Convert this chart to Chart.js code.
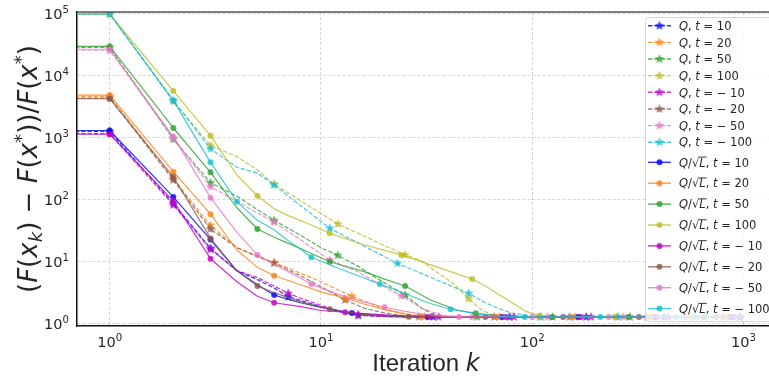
<!DOCTYPE html>
<html>
<head>
<meta charset="utf-8">
<script src="https://cdn.jsdelivr.net/npm/chart.js@4.4.1/dist/chart.umd.min.js"></script>
<style>
  html, body { margin: 0; padding: 0; background: #fff; }
</style>
</head>
<body>
<canvas id="chart" width="769" height="377"></canvas>
<script>
// iterations k, values and marker positions for each run
const kQ10 = [0.1, 1, 2, 3, 4, 5, 6, 7, 8, 10, 12, 15, 20, 25, 34, 78, 180, 420, 960, 1000];
const vQ10 = [1280, 1280, 88, 16.6, 7.2, 5.2, 3.8, 2.76, 2.4, 1.9, 1.6, 1.38, 1.32, 1.3, 1.3, 1.3, 1.3, 1.3, 1.3, 1.3];
const mQ10 = [1, 2, 3, 7, 15, 34, 78, 180, 420, 960];

const kQ20 = [0.1, 1, 2, 3, 4, 5, 6, 7, 8, 10, 14, 20, 25, 31, 70, 160, 370, 850, 1000];
const vQ20 = [4700, 4700, 220, 39, 17, 12.5, 9.8, 8.0, 6.6, 4.8, 2.8, 1.75, 1.45, 1.32, 1.3, 1.3, 1.3, 1.3, 1.3];
const mQ20 = [1, 2, 3, 6, 14, 31, 70, 160, 370, 850];

const kQ50 = [0.1, 1, 2, 3, 4, 5, 6, 8, 10, 12, 15, 19, 25, 30, 35, 55, 125, 290, 660, 1000];
const vQ50 = [29000, 29000, 950, 190, 115, 70, 47, 27, 17, 12.8, 8.5, 5.1, 2.94, 1.8, 1.35, 1.3, 1.3, 1.3, 1.3, 1.3];
const mQ50 = [1, 2, 3, 6, 12, 25, 55, 125, 290, 660];

const kQ100 = [0.1, 1, 2, 3, 4, 5, 6, 12, 18, 25, 30, 35, 42, 50, 58, 68, 80, 108, 250, 580, 1000];
const vQ100 = [1e5, 1e5, 3900, 760, 500, 305, 180, 41, 21.7, 13, 10.5, 7.0, 4.6, 2.56, 1.65, 1.32, 1.3, 1.3, 1.3, 1.3, 1.3];
const mQ100 = [1, 2, 3, 6, 12, 25, 50, 108, 250, 580];

const kQm10 = [0.1, 1, 2, 3, 4, 5, 6, 7, 8, 10, 12, 15, 20, 25, 36, 82, 190, 440, 960, 1000];
const vQm10 = [1180, 1180, 83, 16, 7.3, 5.6, 4.1, 3.13, 2.6, 2.0, 1.65, 1.4, 1.32, 1.3, 1.3, 1.3, 1.3, 1.3, 1.3, 1.3];
const mQm10 = [1, 2, 3, 7, 15, 36, 82, 190, 440, 960];

const kQm20 = [0.1, 1, 2, 3, 4, 5, 6, 8, 10, 13, 16, 20, 25, 29, 66, 150, 350, 800, 1000];
const vQm20 = [4400, 4400, 210, 34, 17, 12.2, 9.6, 6.0, 4.0, 2.45, 1.8, 1.5, 1.35, 1.31, 1.3, 1.3, 1.3, 1.3, 1.3];
const mQm20 = [1, 2, 3, 6, 13, 29, 66, 150, 350, 800];

const kQm50 = [0.1, 1, 2, 3, 4, 5, 6, 8, 11, 15, 20, 24, 30, 38, 52, 118, 270, 620, 1000];
const vQm50 = [26000, 26000, 1000, 164, 95, 62, 44, 22.8, 10.8, 6.9, 3.95, 2.86, 1.8, 1.35, 1.3, 1.3, 1.3, 1.3, 1.3];
const mQm50 = [1, 2, 3, 6, 11, 24, 52, 118, 270, 620];

const kQm100 = [0.1, 1, 2, 3, 4, 5, 6, 8, 11, 16, 23, 30, 40, 50, 60, 70, 80, 100, 110, 255, 590, 1000];
const vQm100 = [1e5, 1e5, 4060, 670, 337, 270, 175, 81, 35, 18, 9.5, 6.5, 4.3, 3.13, 2.2, 1.75, 1.5, 1.34, 1.3, 1.3, 1.3, 1.3];
const mQm100 = [1, 2, 3, 6, 11, 23, 50, 110, 255, 590];

const kS10 = [0.1, 1, 2, 3, 4, 5, 6, 7, 8, 10, 14, 20, 25, 32, 72, 165, 380, 870, 1000];
const vS10 = [1320, 1320, 112, 23, 7.2, 4.3, 2.94, 2.5, 2.2, 1.85, 1.5, 1.36, 1.31, 1.3, 1.3, 1.3, 1.3, 1.3, 1.3];
const mS10 = [1, 2, 3, 6, 14, 32, 72, 165, 380, 870];

const kS20 = [0.1, 1, 2, 3, 4, 5, 6, 8, 10, 13, 16, 20, 25, 30, 68, 155, 360, 820, 1000];
const vS20 = [4900, 4900, 286, 59, 15.6, 8.2, 6.0, 4.3, 3.3, 2.6, 2.1, 1.7, 1.45, 1.32, 1.3, 1.3, 1.3, 1.3, 1.3];
const mS20 = [1, 2, 3, 6, 13, 30, 68, 155, 360, 820];

const kS50 = [0.1, 1, 2, 3, 4, 5, 6, 7, 8, 11, 16, 20, 25, 33, 44, 54, 68, 80, 124, 285, 650, 1000];
const vS50 = [30000, 30000, 1450, 280, 75, 34, 25, 20, 16.5, 10.1, 7.0, 5.3, 4.1, 2.44, 1.68, 1.49, 1.35, 1.3, 1.3, 1.3, 1.3, 1.3];
const mS50 = [1, 2, 3, 5, 11, 25, 54, 124, 285, 650];

const kS100 = [0.1, 1, 2, 3, 4, 5, 6, 7, 9, 11, 16, 24, 35, 52, 60, 68, 81, 94, 108, 125, 245, 560, 1000];
const vS100 = [1e5, 1e5, 5730, 1090, 253, 117, 72, 56, 39.5, 29, 19, 13, 8.4, 5.3, 4.1, 3.13, 2.16, 1.58, 1.35, 1.3, 1.3, 1.3, 1.3];
const mS100 = [1, 2, 3, 5, 11, 24, 52, 108, 245, 560];

const kSm10 = [0.1, 1, 2, 3, 4, 5, 6, 8, 10, 13, 16, 20, 25, 33, 75, 170, 390, 900, 1000];
const vSm10 = [1150, 1150, 97, 11.3, 4.8, 2.8, 2.2, 1.9, 1.65, 1.55, 1.47, 1.4, 1.35, 1.31, 1.3, 1.3, 1.3, 1.3, 1.3];
const mSm10 = [1, 2, 3, 6, 13, 33, 75, 170, 390, 900];

const kSm20 = [0.1, 1, 2, 3, 4, 5, 6, 8, 11, 15, 20, 26, 60, 140, 320, 740, 1000];
const vSm20 = [4300, 4300, 237, 24, 7.2, 4.1, 3.2, 2.3, 1.73, 1.45, 1.35, 1.31, 1.3, 1.3, 1.3, 1.3, 1.3];
const mSm20 = [1, 2, 3, 5, 11, 26, 60, 140, 320, 740];

const kSm50 = [0.1, 1, 2, 3, 4, 5, 6, 7, 9, 12, 15, 20, 25, 30, 38, 45, 100, 230, 530, 1000];
const vSm50 = [27000, 27000, 1050, 109, 30, 13, 9.2, 7.0, 4.4, 3.0, 2.4, 1.86, 1.6, 1.45, 1.33, 1.3, 1.3, 1.3, 1.3, 1.3];
const mSm50 = [1, 2, 3, 5, 9, 20, 45, 100, 230, 530];

const kSm100 = [0.1, 1, 2, 3, 4, 5, 6, 7, 8, 9, 12, 15, 19, 25, 32, 41, 52, 68, 92, 210, 480, 1000];
const vSm100 = [1e5, 1e5, 4000, 405, 94, 47, 33, 22, 16, 11.9, 8.0, 6.0, 4.4, 3.1, 2.2, 1.73, 1.5, 1.35, 1.3, 1.3, 1.3, 1.3];
const mSm100 = [1, 2, 3, 4, 9, 19, 41, 92, 210, 480];

const tLabels = ['10', '20', '50', '100', '\u2212 10', '\u2212 20', '\u2212 50', '\u2212 100'];
const xTicks = [1, 10, 100, 1000];
const yTicks = [1, 10, 100, 1000, 10000, 100000];

// colours (matplotlib-ish, alpha .8)
const palette = [
  'rgba(0,0,255,0.8)', 'rgba(255,127,14,0.8)', 'rgba(44,160,44,0.8)', 'rgba(188,189,34,0.8)',
  'rgba(191,0,191,0.8)', 'rgba(140,86,75,0.8)', 'rgba(227,119,194,0.8)', 'rgba(23,190,207,0.8)'
];

const runs = [
  [kQ10, vQ10, mQ10], [kQ20, vQ20, mQ20], [kQ50, vQ50, mQ50], [kQ100, vQ100, mQ100],
  [kQm10, vQm10, mQm10], [kQm20, vQm20, mQm20], [kQm50, vQm50, mQm50], [kQm100, vQm100, mQm100],
  [kS10, vS10, mS10], [kS20, vS20, mS20], [kS50, vS50, mS50], [kS100, vS100, mS100],
  [kSm10, vSm10, mSm10], [kSm20, vSm20, mSm20], [kSm50, vSm50, mSm50], [kSm100, vSm100, mSm100]
];

// filled star marker like matplotlib '*'
function starImg(color, R) {
  const c = document.createElement('canvas');
  const s = Math.ceil(R * 2 + 2);
  c.width = c.height = s;
  const g = c.getContext('2d');
  g.translate(s / 2, s / 2);
  g.beginPath();
  for (let i = 0; i < 10; i++) {
    const r = i % 2 ? R * 0.45 : R;
    const a = -Math.PI / 2 + i * Math.PI / 5;
    g.lineTo(r * Math.cos(a), r * Math.sin(a));
  }
  g.closePath();
  g.fillStyle = color;
  g.fill();
  return c;
}

const datasets = runs.map(([ks, vs, ms], i) => {
  const isQ = i < 8;
  const color = palette[i % 8];
  return {
    label: (isQ ? 'Q' : 'Q/\u221aL') + ', t = ' + tLabels[i % 8],
    data: ks.map((k, j) => ({ x: k, y: vs[j] })),
    borderColor: color,
    backgroundColor: color,
    borderWidth: 1.2,
    borderDash: isQ ? [4.4, 1.9] : [],
    borderJoinStyle: 'round',
    tension: 0,
    pointStyle: isQ ? starImg(color, 5) : 'circle',
    pointRadius: ctx => (ctx.raw && ms.includes(ctx.raw.x)) ? (isQ ? 5 : 3) : 0,
    pointBorderWidth: 0,
    pointHoverRadius: 0,
    order: 15 - i
  };
});

// small rich-text helper for the math labels
function rich(ctx, parts, x, y, size, draw) {
  let cx = x;
  for (const [t, kind] of parts) {
    let s = size, dy = 0;
    if (kind.includes('sub')) { s = size * 0.7; dy = size * 0.2; }
    if (kind.includes('sup')) { s = size * 0.7; dy = -size * 0.4; }
    const fam = kind === 'sans' ? '"Liberation Sans", Arial, sans-serif' : '"DejaVu Sans", sans-serif';
    ctx.font = (kind.includes('i') ? 'italic ' : '') + s + 'px ' + fam;
    const w = ctx.measureText(t).width;
    if (draw) {
      ctx.fillText(t, cx, y + dy);
      if (kind.includes('ol')) ctx.fillRect(cx - 0.5, y - size * 0.86, w + 1.5, 0.9);
    }
    cx += w;
  }
  return cx - x;
}

const textPlugin = {
  id: 'texts',
  afterDraw(chart) {
    const ctx = chart.ctx;
    const area = chart.chartArea;
    const xs = chart.scales.x, ys = chart.scales.y;
    ctx.save();

    // top spine
    ctx.strokeStyle = '#555';
    ctx.lineWidth = 1.3;
    ctx.beginPath();
    ctx.moveTo(area.left, area.top);
    ctx.lineTo(area.right, area.top);
    ctx.stroke();

    ctx.fillStyle = '#262626';
    ctx.textBaseline = 'alphabetic';
    ctx.textAlign = 'left';

    // y tick labels 10^n
    yTicks.forEach((v, n) => {
      const py = ys.getPixelForValue(v) + 5;
      const parts = [['10', 'r'], [String(n), 'sup']];
      const w = rich(ctx, parts, 0, 0, 14.5, false);
      rich(ctx, parts, area.left - 8 - w, py, 14.5, true);
    });
    // x tick labels
    xTicks.forEach((v, n) => {
      const px = xs.getPixelForValue(v);
      const parts = [['10', 'r'], [String(n), 'sup']];
      const w = rich(ctx, parts, 0, 0, 14.5, false);
      rich(ctx, parts, px - w / 2, 347, 14.5, true);
    });

    // x axis title
    const xt = [['Iteration ', 'sans'], ['k', 'i']];
    const xw = rich(ctx, xt, 0, 0, 24, false);
    rich(ctx, xt, (area.left + area.right) / 2 - xw / 2 + 3, 371, 24, true);

    // y axis title
    const yt = [['(', 'r'], ['F', 'i'], ['(', 'r'], ['x', 'i'], ['k', 'subi'], [')', 'r'], [' \u2212 ', 'r'],
      ['F', 'i'], ['(', 'r'], ['x', 'i'], ['*', 'sup'], ['))/', 'r'], ['F', 'i'], ['(', 'r'], ['x', 'i'], ['*', 'sup'], [')', 'r']];
    const yw = rich(ctx, yt, 0, 0, 26, false);
    ctx.save();
    ctx.translate(37, (area.top + area.bottom) / 2);
    ctx.rotate(-Math.PI / 2);
    rich(ctx, yt, -yw / 2, 0, 26, true);
    ctx.restore();

    // legend
    ctx.fillStyle = 'rgba(255,255,255,0.8)';
    ctx.strokeStyle = 'rgba(204,204,204,0.8)';
    ctx.lineWidth = 1;
    ctx.beginPath();
    ctx.roundRect(645.5, 17.5, 160, 304, 3);
    ctx.fill();
    ctx.stroke();

    chart.data.datasets.forEach((ds, i) => {
      const isQ = i < 8;
      const ly = isQ ? 25.7 + i * 16.65 : 162.3 + (i - 8) * 20.9;
      ctx.strokeStyle = ds.borderColor;
      ctx.lineWidth = 1.4;
      ctx.setLineDash(isQ ? [4.4, 1.9] : []);
      ctx.beginPath();
      ctx.moveTo(648, ly);
      ctx.lineTo(671, ly);
      ctx.stroke();
      ctx.setLineDash([]);
      if (isQ) {
        const img = ds.pointStyle;
        ctx.drawImage(img, 659.5 - img.width / 2, ly - img.height / 2);
      } else {
        ctx.fillStyle = ds.backgroundColor;
        ctx.beginPath();
        ctx.arc(659.5, ly, 3, 0, Math.PI * 2);
        ctx.fill();
      }
      ctx.fillStyle = '#262626';
      const parts = isQ
        ? [['Q', 'i'], [', ', 'r'], ['t', 'i'], [' = ' + tLabels[i % 8], 'r']]
        : [['Q', 'i'], ['/\u221a', 'r'], ['L', 'iol'], [', ', 'r'], ['t', 'i'], [' = ' + tLabels[i % 8], 'r']];
      rich(ctx, parts, 679, ly + 4.2, 11.5, true);
    });
    ctx.restore();
  }
};

const gridOpts = { color: 'rgba(0,0,0,0.16)', lineWidth: 1, drawTicks: false };

new Chart(document.getElementById('chart'), {
  type: 'line',
  data: { datasets },
  options: {
    responsive: false,
    devicePixelRatio: 1,
    animation: false,
    events: [],
    layout: { padding: { top: 12, left: 0, right: 0, bottom: 0 } },
    plugins: { legend: { display: false }, tooltip: { enabled: false } },
    scales: {
      x: {
        type: 'logarithmic',
        min: 0.706,
        max: 1320,
        afterBuildTicks: s => { s.ticks = xTicks.map(v => ({ value: v })); },
        afterFit: s => { s.height = 51; },
        ticks: { display: false },
        grid: gridOpts,
        border: { display: true, color: '#111', width: 1.5, dash: [3, 2] }
      },
      y: {
        type: 'logarithmic',
        min: 0.928,
        max: 107700,
        afterBuildTicks: s => { s.ticks = yTicks.map(v => ({ value: v })); },
        afterFit: s => { s.width = 77; },
        ticks: { display: false },
        grid: gridOpts,
        border: { display: true, color: '#111', width: 1.5, dash: [3, 2] }
      }
    }
  },
  plugins: [textPlugin]
});
</script>
</body>
</html>
